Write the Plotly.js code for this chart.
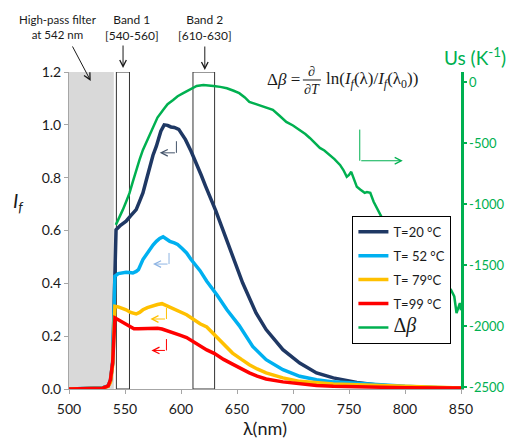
<!DOCTYPE html>
<html><head><meta charset="utf-8">
<script src="https://cdn.plot.ly/plotly-3.0.1.min.js"></script>
<style>html,body{margin:0;padding:0;background:#fff}#chart{width:508px;height:441px}</style>
</head><body><div id="chart"></div>
<script>
// ---- data ----
const seriesNames = ['T=20 °C', 'T= 52 °C', 'T= 79°C', 'T=99 °C'];

const wl20 = [500,520,530,535,537,539,540,541,542,546,551,555,560,563,566,569,572,575,578,582,585,588,591,594,598,601,604,609,613,618,622,627,631,637,646,655,667,676,691,706,721,736,757,775,800,825,850];
const if20 = [0,0.002,0.004,0.012,0.03,0.1,0.3,0.55,0.603,0.62,0.635,0.655,0.679,0.71,0.742,0.79,0.843,0.885,0.919,0.976,1.0,0.998,0.992,0.99,0.983,0.965,0.944,0.9,0.856,0.81,0.767,0.717,0.675,0.607,0.502,0.402,0.288,0.225,0.149,0.098,0.061,0.042,0.025,0.015,0.008,0.005,0.003];

const wl52 = [500,530,535,537,539,540,541,544,548,551,554,557,560,562,566,569,572,575,578,581,584,587,590,594,597,601,605,609,614,617,623,629,632,641,652,664,676,691,706,721,736,757,780,800,825,850];
const if52 = [0,0.004,0.012,0.03,0.1,0.3,0.427,0.437,0.441,0.442,0.441,0.439,0.445,0.452,0.49,0.51,0.528,0.545,0.559,0.57,0.576,0.568,0.559,0.553,0.547,0.532,0.515,0.49,0.464,0.448,0.408,0.376,0.357,0.3,0.24,0.161,0.111,0.073,0.048,0.035,0.027,0.022,0.015,0.01,0.006,0.004];

const wl79 = [500,530,535,537,539,540,541,544,548,551,555,558,560,563,566,570,575,579,583,587,591,596,600,605,609,614,617,623,630,633,640,646,654,661,668,676,691,706,736,757,780,800,825,850];
const if79 = [0,0.003,0.01,0.025,0.09,0.25,0.313,0.311,0.305,0.3,0.29,0.286,0.284,0.29,0.3,0.308,0.316,0.32,0.323,0.316,0.308,0.3,0.292,0.281,0.27,0.256,0.247,0.235,0.205,0.195,0.165,0.136,0.112,0.092,0.076,0.061,0.042,0.029,0.019,0.016,0.012,0.008,0.005,0.004];

const wl99 = [500,530,535,537,539,540,541,544,548,551,555,558,562,566,570,575,579,583,587,590,595,599,605,611,617,623,630,638,646,654,661,668,676,691,706,721,736,760,800,850];
const if99 = [0,0.003,0.012,0.035,0.1,0.22,0.269,0.262,0.252,0.244,0.236,0.228,0.228,0.229,0.23,0.231,0.23,0.227,0.222,0.218,0.21,0.204,0.195,0.18,0.162,0.148,0.134,0.112,0.094,0.076,0.061,0.049,0.038,0.027,0.019,0.013,0.01,0.008,0.005,0.004];

const wlBeta = [541.8,545,548,551,554,557,560,563,566,570,575,579,584,588,593,597,602,608,614,620,625,629,635,641,647,652,657,661,667,672,677,682,688,694,700,706,711,715,719,724,728,733,737,742,745,748,750,752,755,757,760,764,766,769,772,775,777,779,785,795,805,815,825,832,838,841,844,846,848,849,850];
const beta = [-1170,-1110,-1047,-980,-910,-815,-719,-635,-555,-470,-364,-290,-227,-180,-145,-115,-90,-60,-30,-22,-25,-30,-38,-49,-70,-90,-125,-161,-180,-195,-210,-227,-275,-325,-355,-391,-425,-457,-490,-539,-560,-596,-630,-678,-720,-776,-760,-735,-800,-858,-880,-907,-900,-907,-980,-1030,-1060,-1104,-1150,-1230,-1310,-1400,-1500,-1580,-1675,-1702,-1757,-1893,-1830,-1811,-1870];

const xTicks = [500,550,600,650,700,750,800,850];
const y2Ticks = [0,-500,-1000,-1500,-2000,-2500];
const y2TickText = ['0','-500','-1000','-1500','-2000','-2500'];

// ---- styling ----
const colors = ['#1f3864','#00b0f0','#ffc000','#ff0000'];
const green = '#00b050';
const txt = '#1a1a1a';
const FONT = 'Lato, "Open Sans", sans-serif';
const SERIF = '"Liberation Serif", "DejaVu Serif", serif';

const xs = [wl20, wl52, wl79, wl99];
const ys = [if20, if52, if79, if99];
const traces = xs.map((x, i) => ({
  x: x, y: ys[i], type: 'scatter', mode: 'lines', name: seriesNames[i],
  legendgroup: 'g' + i,
  line: {color: colors[i], width: 3.5}, xaxis: 'x', yaxis: 'y'
}));
traces.push({
  x: wlBeta, y: beta, type: 'scatter', mode: 'lines', legendgroup: 'g4',
  name: '<span style="font-family:Liberation Serif;font-size:20px">Δ<i>β</i></span>',
  line: {color: green, width: 2.5}, xaxis: 'x', yaxis: 'y2'
});

// pixel helpers for paper coordinates
const L = 69.3, R = 461, T = 72, B = 389.3;
const px = v => (v - L) / (R - L);
const py = v => (B - v) / (B - T);

const hook = (x0, x1, y0, y1, col) => ({
  shape: {type: 'line', xref: 'x', yref: 'y', x0: x0, x1: x0, y0: y0, y1: y1, line: {color: col, width: 1}},
  ann: {xref: 'x', yref: 'y', axref: 'x', ayref: 'y', x: x1, y: y1, ax: x0, ay: y1, text: '',
        showarrow: true, arrowhead: 5, arrowsize: 1.3, arrowwidth: 1, arrowcolor: col}
});
const hooks = [
  hook(595.9, 581, 0.938, 0.894, '#44546a'),
  hook(589.3, 575, 0.515, 0.473, '#8eb4e3'),
  hook(587, 572.7, 0.307, 0.265, '#ffc000'),
  hook(587, 573.6, 0.189, 0.146, '#ff0000'),
  hook(759.6, 798, 0.982, 0.864, green)
];

const shapes = [
  {type: 'rect', xref: 'x', yref: 'y', x0: 500, x1: 540, y0: 0, y1: 1.2, fillcolor: '#d9d9d9', line: {width: 0}, layer: 'below'},
  {type: 'rect', xref: 'x', yref: 'y', x0: 542.3, x1: 554, y0: 0, y1: 1.2, line: {color: '#333', width: 1}, layer: 'below'},
  {type: 'rect', xref: 'x', yref: 'y', x0: 610.7, x1: 630, y0: 0, y1: 1.2, line: {color: '#333', width: 1}, layer: 'below'},
  {type: 'line', xref: 'paper', yref: 'paper', x0: px(303), x1: px(321), y0: py(80), y1: py(80), line: {color: txt, width: 1}}
].concat(hooks.map(h => h.shape));

const arrowAnn = (hx, hy, dx, dy) => ({
  xref: 'paper', yref: 'paper', x: px(hx), y: py(hy), ax: dx, ay: dy, text: '',
  showarrow: true, arrowhead: 5, arrowsize: 1.3, arrowwidth: 1, arrowcolor: txt
});
const textAnn = (t, cx, cy, font) => ({
  xref: 'paper', yref: 'paper', x: px(cx), y: py(cy), text: t, showarrow: false,
  xanchor: 'center', yanchor: 'middle', font: font
});

const annotations = [
  textAnn('High-pass filter<br>at 542 nm', 58, 27, {family: FONT, size: 11.5, color: txt}),
  arrowAnn(91, 81, -19, -36),
  textAnn('Band 1<br>[540-560]', 132, 27, {family: FONT, size: 12, color: txt}),
  arrowAnn(123.3, 68, 0, -24),
  textAnn('Band 2<br>[610-630]', 205, 27, {family: FONT, size: 12, color: txt}),
  arrowAnn(205, 70, 0, -25),
  textAnn('Δ<i>β</i> =', 284, 80, {family: SERIF, size: 17, color: txt}),
  textAnn('∂', 312, 71, {family: SERIF, size: 14, color: txt}),
  textAnn('∂<i>T</i>', 312, 90, {family: SERIF, size: 14, color: txt}),
  textAnn('ln(<i>I<sub>f</sub></i>(λ)/<i>I<sub>f</sub></i>(λ<sub>0</sub>))', 372, 80, {family: SERIF, size: 17, color: txt}),
  textAnn('Us (K<sup>-1</sup>)', 475, 56, {family: FONT, size: 19, color: green}),
  textAnn('<i>I<sub>f</sub></i>', 19, 202, {family: FONT, size: 20, color: txt})
].concat(hooks.map(h => h.ann));

const layout = {
  width: 508, height: 441,
  margin: {l: L, r: 508 - R, t: T, b: 441 - B, pad: 0},
  paper_bgcolor: '#fff', plot_bgcolor: '#fff',
  font: {family: FONT, size: 14, color: txt},
  showlegend: true,
  legend: {
    x: px(352.5), y: py(216), xanchor: 'left', yanchor: 'top',
    bgcolor: '#fff', bordercolor: '#000', borderwidth: 1,
    font: {family: FONT, size: 13, color: txt},
    traceorder: 'grouped', tracegroupgap: 4
  },
  xaxis: {
    range: [500, 850], tickvals: xTicks, showgrid: false, zeroline: false,
    showline: true, linecolor: '#a6a6a6', linewidth: 1,
    ticks: 'outside', ticklen: 4, tickcolor: '#a6a6a6', ticklabelstandoff: 3,
    tickfont: {family: FONT, size: 14, color: txt},
    title: {text: 'λ(nm)', font: {family: FONT, size: 18, color: txt}, standoff: 6}
  },
  yaxis: {
    range: [0, 1.2], dtick: 0.2, tick0: 0, tickformat: '.1f', showgrid: false, zeroline: false,
    showline: true, linecolor: '#a6a6a6', linewidth: 1,
    ticks: 'outside', ticklen: 4, tickcolor: '#a6a6a6',
    tickfont: {family: FONT, size: 14, color: txt}
  },
  yaxis2: {
    overlaying: 'y', side: 'right', range: [-2516, 84],
    tickvals: y2Ticks, ticktext: y2TickText, showgrid: false, zeroline: false,
    showline: true, linecolor: green, linewidth: 2.5,
    ticks: 'outside', ticklen: 3, tickwidth: 2, tickcolor: green,
    tickfont: {family: FONT, size: 13, color: green}
  },
  shapes: shapes,
  annotations: annotations
};

Plotly.newPlot('chart', traces, layout, {displayModeBar: false, staticPlot: true});
</script>
</body></html>
